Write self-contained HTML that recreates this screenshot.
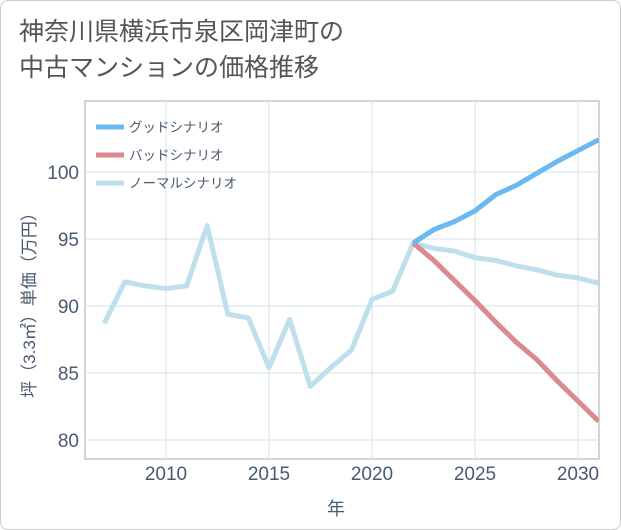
<!DOCTYPE html>
<html><head><meta charset="utf-8"><style>
body{margin:0;background:#fff;font-family:"Liberation Sans","Noto Sans CJK JP",sans-serif;}
#wrap{position:relative;width:619px;height:528px;border:1px solid #ccc;border-radius:8px;overflow:hidden;}
</style></head><body>
<div id="wrap">
<svg id="c" width="621" height="530"></svg>
</div>
<script>
const years=[2007,2008,2009,2010,2011,2012,2013,2014,2015,2016,2017,2018,2019,2020,2021,2022,2023,2024,2025,2026,2027,2028,2029,2030,2031];
const normal=[88.7,91.8,91.5,91.3,91.5,96,89.4,89.1,85.4,89,84,85.4,86.7,90.5,91.1,94.7,94.3,94.1,93.6,93.4,93,92.7,92.3,92.1,91.7];
const fYears=[2022,2023,2024,2025,2026,2027,2028,2029,2030,2031];
const good=[94.7,95.7,96.3,97.1,98.3,99,99.9,100.8,101.6,102.4];
const bad=[94.7,93.4,91.9,90.4,88.8,87.3,86,84.4,82.9,81.4];
const xTicks=[2010,2015,2020,2025,2030];
const yTicks=[80,85,90,95,100];
const NS="http://www.w3.org/2000/svg",svg=document.getElementById('c');
const L=84,R=598,T=100,B=458;
const x=v=>165+(v-2010)*20.6, y=v=>171+(100-v)*13.4;
function mk(t,a){const e=document.createElementNS(NS,t);for(const k in a)e.setAttribute(k,a[k]);svg.appendChild(e);return e;}
let e;
e=mk('rect',{x:L,y:T,width:R-L,height:B-T,fill:'none',stroke:'#aaa'});

xTicks.forEach(t=>{e=mk('line',{x1:x(t),x2:x(t),y1:T,y2:B,stroke:'#d5e3ea'});

e=mk('text',{x:x(t),y:479,'text-anchor':'middle','font-size':19,fill:'#4a5a70'});e.textContent=t;
});
yTicks.forEach(t=>{e=mk('line',{x1:L,x2:R,y1:y(t),y2:y(t),stroke:'#d5e3ea'});

e=mk('text',{x:78,y:y(t)+7,'text-anchor':'end','font-size':19,fill:'#4a5a70'});e.textContent=t;
});
function line(xs,ys,c,n){e=mk('polyline',{points:xs.map((v,i)=>x(v)+','+y(ys[i])).join(' '),fill:'none',stroke:c,'stroke-width':5,'stroke-linejoin':'round'});
}
const cp=mk('clipPath',{id:'cl'});const cr=document.createElementNS(NS,'rect');
cr.setAttribute('x',L);cr.setAttribute('y',T);cr.setAttribute('width',R-L);cr.setAttribute('height',B-T);cp.appendChild(cr);
line(years,normal,'#bde0ec','normal-line');
line(fYears,bad,'#dc8a8e','bad-line');
line(fYears,good,'#6cb8f0','good-line');
svg.querySelectorAll('polyline').forEach(p=>p.setAttribute('clip-path','url(#cl)'));
[['グッドシナリオ','#6cb8f0'],['バッドシナリオ','#dc8a8e'],['ノーマルシナリオ','#bde0ec']].forEach((d,i)=>{
e=mk('line',{x1:95,x2:123,y1:126+i*28,y2:126+i*28,stroke:d[1],'stroke-width':5});

e=mk('text',{x:128,y:131+i*28,'font-size':13.5,fill:'#4a5a70'});e.textContent=d[0];
});
e=mk('text',{x:18,y:39,'font-size':25,fill:'#555'});e.textContent='神奈川県横浜市泉区岡津町の';

e=mk('text',{x:18,y:75,'font-size':25,fill:'#555'});e.textContent='中古マンションの価格推移';

e=mk('text',{x:335,y:514,'text-anchor':'middle','font-size':18,fill:'#4a5a70'});e.textContent='年';

e=mk('text',{x:0,y:0,'text-anchor':'middle','font-size':17,fill:'#4a5a70',transform:'translate(34,300) rotate(-90)'});e.textContent='坪（3.3㎡）単価（万円）';

</script>
</body></html>
